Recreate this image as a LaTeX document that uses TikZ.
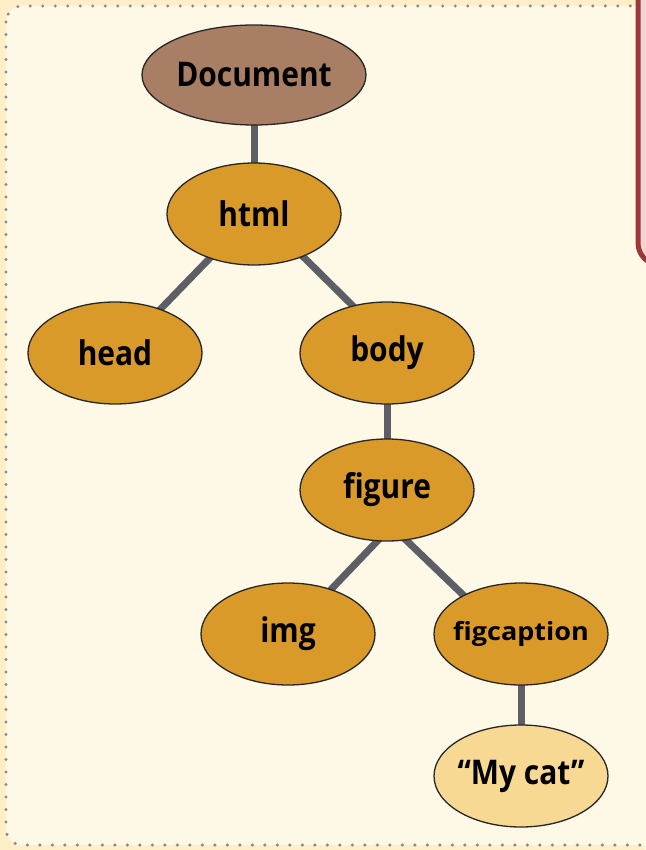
\documentclass[tikz,border=0pt]{standalone}
\usepackage{fontspec}
\newfontfamily\lblfont{Open Sans Bold}[FakeStretch=0.88]
\newfontfamily\smallfont{Open Sans Bold}[FakeStretch=1.08]
\usetikzlibrary{shapes.geometric}
\pgfdeclarelayer{bg}
\pgfdeclarelayer{edges}
\pgfsetlayers{bg,edges,main}
\definecolor{pagebg}{HTML}{FEEFC9}
\definecolor{panelbg}{HTML}{FEF8E7}
\definecolor{dotgray}{HTML}{8A8A8A}
\definecolor{docfill}{HTML}{A87E64}
\definecolor{elfill}{HTML}{D99A2A}
\definecolor{txtfill}{HTML}{F7D993}
\definecolor{edgegray}{HTML}{5E5E66}
\definecolor{notered}{HTML}{9E3838}
\definecolor{notefill}{HTML}{F4D4D2}
% zero-width label so the ellipse keeps its fixed size
\newcommand{\lbl}[1]{\makebox[0pt]{#1}}
\tikzset{
  treenode/.style={ellipse, draw=black!85, line width=1.3pt, minimum width=174pt,
    minimum height=102pt, inner sep=0pt, font=\lblfont\fontsize{34}{36}\selectfont},
  elnode/.style={treenode, fill=elfill},
  link/.style={draw=edgegray, line width=7pt, shorten <=-5pt, shorten >=-5pt}
}
\begin{document}
\begin{tikzpicture}[x=1pt,y=-1pt]
  \useasboundingbox (0,0) rectangle (645,850);
  \begin{pgfonlayer}{bg}
    \fill[pagebg] (0,0) rectangle (645,850);
    % dotted panel
    \draw[dotgray, line width=3.4pt, line cap=round, dash pattern=on 0pt off 12.5pt, fill=panelbg, rounded corners=16pt]
      (6,6) rectangle (660,845);
    % note box at the right edge
    \draw[notered, line width=5pt, fill=notefill, rounded corners=22pt]
      (638,-20) rectangle (700,265);
  \end{pgfonlayer}
  % nodes
  \node[treenode, fill=docfill, minimum width=224pt, minimum height=100pt] (doc) at (254,75) {\lbl{Document}};
  \node[elnode] (html) at (254,214) {\lbl{html}};
  \node[elnode] (head) at (115,353) {\lbl{head}};
  \node[elnode] (body) at (387,353) {\lbl{body}};
  \node[elnode] (figure) at (387,490) {\lbl{figure}};
  \node[elnode] (img) at (288,634) {\lbl{img}};
  \node[elnode, font=\smallfont\fontsize{25}{27}\selectfont] (figcap) at (521,634) {\lbl{figcaption}};
  \node[treenode, fill=txtfill] (mycat) at (521,776) {\lbl{“My cat”}};
  % connectors, tucked under the nodes
  \begin{pgfonlayer}{edges}
    \path[link] (doc) -- (html);
    \path[link] (html.225) -- (head.44);
    \path[link] (html.319) -- (body.126);
    \path[link] (body) -- (figure);
    \path[link] (figure.259) -- (img.46);
    \path[link] (figure.291) -- (figcap.146);
    \path[link] (figcap) -- (mycat);
  \end{pgfonlayer}
\end{tikzpicture}
\end{document}
